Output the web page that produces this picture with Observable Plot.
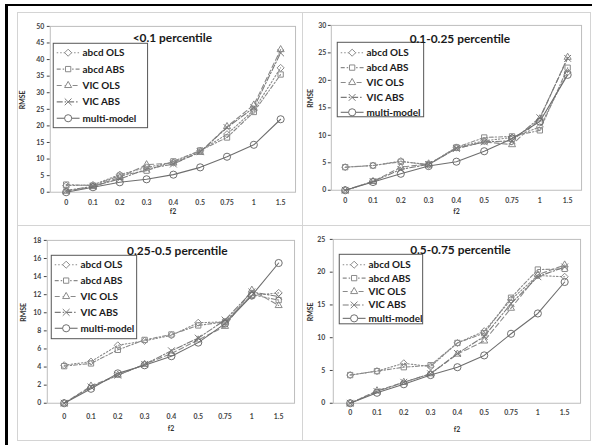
<!DOCTYPE html>
<html>
<head>
<meta charset="utf-8">
<script src="https://cdn.jsdelivr.net/npm/d3@7"></script>
<script src="https://cdn.jsdelivr.net/npm/@observablehq/plot@0.6"></script>
<style>
  html, body { margin: 0; padding: 0; background: #fff; }
  #root { position: relative; width: 592px; height: 445px; overflow: hidden; background: #fff; }
  .frameTop { position: absolute; left: 5px; top: 4px; width: 587px; height: 2px; background: #000; }
  .frameLeft { position: absolute; left: 5px; top: 4px; width: 3px; height: 441px; background: #000; }
  .panel { position: absolute; box-sizing: border-box; border: 1px solid #d4d4d4; }
  .panel svg { position: absolute; left: -1px; top: -1px; }
</style>
</head>
<body>
<div id="root">
  <div class="frameTop"></div>
  <div class="frameLeft"></div>
</div>
<script>
// ---- data ----
const f2Labels = ["0", "0.1", "0.2", "0.3", "0.4", "0.5", "0.75", "1", "1.5"];
const seriesNames = ["abcd OLS", "abcd ABS", "VIC OLS", "VIC ABS", "multi-model"];

// <0.1 percentile
const p1AbcdOLS  = [2.0, 2.2, 5.3, 7.5, 9.0, 12.5, 17.5, 24.8, 37.5];
const p1AbcdABS  = [2.3, 2.0, 5.0, 6.5, 9.3, 12.6, 16.5, 24.2, 35.5];
const p1VicOLS   = [0.3, 1.7, 4.5, 8.3, 8.8, 12.0, 19.8, 26.3, 43.0];
const p1VicABS   = [0.5, 1.8, 4.0, 7.0, 8.5, 12.2, 19.5, 25.5, 42.0];
const p1Multi    = [0.0, 1.5, 3.0, 3.9, 5.3, 7.5, 10.7, 14.3, 22.0];

// 0.1-0.25 percentile
const p2AbcdOLS  = [4.2, 4.5, 5.3, 4.6, 7.8, 9.0, 9.6, 11.5, 21.5];
const p2AbcdABS  = [4.2, 4.5, 5.2, 4.7, 7.8, 9.6, 9.8, 10.9, 22.3];
const p2VicOLS   = [0.0, 1.6, 4.2, 4.8, 7.6, 8.8, 8.3, 13.0, 24.2];
const p2VicABS   = [0.0, 1.6, 3.8, 4.7, 7.6, 8.8, 9.0, 13.2, 24.0];
const p2Multi    = [0.0, 1.5, 3.0, 4.4, 5.2, 7.1, 9.4, 12.5, 21.0];

// 0.25-0.5 percentile
const p3AbcdOLS  = [4.2, 4.6, 6.4, 6.9, 7.5, 8.9, 9.0, 11.9, 12.2];
const p3AbcdABS  = [4.1, 4.4, 5.9, 7.0, 7.6, 8.6, 9.0, 12.0, 11.4];
const p3VicOLS   = [0.0, 1.9, 3.1, 4.3, 5.5, 7.0, 8.5, 12.5, 10.8];
const p3VicABS   = [0.0, 1.8, 3.1, 4.3, 5.8, 7.2, 9.2, 12.3, 11.8];
const p3Multi    = [0.0, 1.6, 3.3, 4.2, 5.2, 6.7, 8.8, 11.9, 15.5];

// 0.5-0.75 percentile
const p4AbcdOLS  = [4.3, 4.9, 6.1, 5.6, 9.2, 11.0, 15.8, 19.5, 19.3];
const p4AbcdABS  = [4.3, 4.9, 5.5, 5.8, 9.2, 10.7, 16.1, 20.4, 20.5];
const p4VicOLS   = [0.0, 1.9, 3.2, 4.5, 7.5, 9.5, 14.5, 19.6, 21.1];
const p4VicABS   = [0.0, 1.8, 3.2, 4.5, 7.6, 10.2, 15.2, 19.3, 20.8];
const p4Multi    = [0.0, 1.6, 2.9, 4.3, 5.5, 7.3, 10.6, 13.7, 18.5];

const titles = ["<0.1 percentile", "0.1-0.25 percentile", "0.25-0.5 percentile", "0.5-0.75 percentile"];
const yMax = [50, 30, 18, 25];
const yStep = [5, 5, 2, 5];

// ---- styles per series ----
const seriesStyle = [
  {symbol: "diamond2", d3sym: d3.symbolDiamond2, dash: "1.5,2",     stroke: "#8a8a8a", r: 3.2},
  {symbol: "square2",  d3sym: d3.symbolSquare2,  dash: "4,2,1.5,2", stroke: "#8a8a8a", r: 3.4},
  {symbol: "triangle2",d3sym: d3.symbolTriangle2,dash: "5,3",       stroke: "#8a8a8a", r: 3.4},
  {symbol: "times",    d3sym: d3.symbolTimes,    dash: "6,2,1.5,2", stroke: "#7a7a7a", r: 3.2},
  {symbol: "circle",   d3sym: d3.symbolCircle,   dash: null,        stroke: "#6e6e6e", r: 3.6}
];

// ---- layout per panel ----
const panels = [
  {vals: [p1AbcdOLS, p1AbcdABS, p1VicOLS, p1VicABS, p1Multi],
   left: 17, top: 12, w: 286, h: 214, mL: 33, mR: 6, mT: 14, mB: 33,
   xPad: 8, yPad: 3, rmseDx: -28, f2Dy: 20, titleDy: 12, titleDx: 0,
   leg: {x: 36, y: 31, w: 95, h: 85, first: 10, step: 16.5}},
  {vals: [p2AbcdOLS, p2AbcdABS, p2VicOLS, p2VicABS, p2Multi],
   left: 302, top: 12, w: 289, h: 214, mL: 29, mR: 8, mT: 13, mB: 35,
   xPad: 8, yPad: 2, rmseDx: -21, f2Dy: 22, titleDy: 14, titleDx: 4,
   leg: {x: 35, y: 30, w: 87, h: 75, first: 11, step: 15}},
  {vals: [p3AbcdOLS, p3AbcdABS, p3VicOLS, p3VicABS, p3Multi],
   left: 17, top: 225, w: 286, h: 216, mL: 30, mR: 7, mT: 15, mB: 37,
   xPad: 11, yPad: 3, rmseDx: -24, f2Dy: 26, titleDy: 11, titleDx: 7,
   leg: {x: 34, y: 30, w: 86, h: 84, first: 10, step: 16}},
  {vals: [p4AbcdOLS, p4AbcdABS, p4VicOLS, p4VicABS, p4Multi],
   left: 302, top: 225, w: 289, h: 216, mL: 31, mR: 9, mT: 14, mB: 37,
   xPad: 7, yPad: 5, rmseDx: -23, f2Dy: 27, titleDy: 11, titleDx: 4,
   leg: {x: 37, y: 29, w: 84, h: 70, first: 11, step: 13.5}}
];

const FONT = "Lato, 'Open Sans', sans-serif";
const root = document.getElementById("root");

panels.forEach((p, i) => {
  const marks = [Plot.frame({stroke: "#bdbdbd"})];
  p.vals.forEach((arr, s) => {
    const st = seriesStyle[s];
    const rows = f2Labels.map((f, k) => ({f2: f, v: arr[k]}));
    marks.push(Plot.line(rows, {x: "f2", y: "v", stroke: st.stroke, strokeWidth: 1.1,
      strokeDasharray: st.dash || undefined}));
    marks.push(Plot.dot(rows, {x: "f2", y: "v", symbol: st.symbol, r: st.r,
      stroke: st.stroke, strokeWidth: 1, fill: "none"}));
  });
  marks.push(Plot.text(["RMSE"], {frameAnchor: "left", dx: p.rmseDx, rotate: -90,
    fontSize: 7, fontWeight: "bold", fill: "#333"}));
  marks.push(Plot.text(["f2"], {frameAnchor: "bottom", dy: p.f2Dy, lineAnchor: "middle",
    fontSize: 7, fontWeight: "bold", fill: "#333"}));

  const svg = Plot.plot({
    width: p.w, height: p.h,
    marginLeft: p.mL, marginRight: p.mR, marginTop: p.mT, marginBottom: p.mB,
    style: {fontFamily: FONT, fontSize: "7px", fontWeight: "bold", color: "#444", background: "none", overflow: "visible"},
    x: {type: "point", domain: f2Labels, padding: 0.5, tickSize: 0, tickPadding: p.xPad, label: null},
    y: {domain: [0, yMax[i]], ticks: d3.range(0, yMax[i] + 0.001, yStep[i]), tickSize: 3,
        tickPadding: p.yPad, label: null},
    marks
  });

  const div = document.createElement("div");
  div.className = "panel";
  div.style.left = p.left + "px";
  div.style.top = p.top + "px";
  div.style.width = p.w + "px";
  div.style.height = p.h + "px";
  div.appendChild(svg);
  root.appendChild(div);

  // legend box drawn inside the plot svg
  const L = p.leg;
  const g = d3.select(svg).append("g").attr("font-family", FONT).attr("text-anchor", "start");
  g.append("rect").attr("x", L.x + 0.5).attr("y", L.y + 0.5).attr("width", L.w).attr("height", L.h)
    .attr("fill", "#fff").attr("stroke", "#555").attr("stroke-width", 1);
  seriesNames.forEach((name, s) => {
    const st = seriesStyle[s];
    const yy = L.y + L.first + s * L.step;
    g.append("line").attr("x1", L.x + 4).attr("x2", L.x + 27).attr("y1", yy).attr("y2", yy)
      .attr("stroke", st.stroke).attr("stroke-width", 1.1)
      .attr("stroke-dasharray", st.dash || null);
    g.append("path").attr("d", d3.symbol(st.d3sym, Math.PI * st.r * st.r)())
      .attr("transform", `translate(${L.x + 15.5},${yy})`)
      .attr("fill", "#fff").attr("stroke", st.stroke).attr("stroke-width", 1);
    g.append("text").attr("x", L.x + 30).attr("y", yy).attr("dy", "0.35em")
      .attr("text-anchor", "start")
      .attr("font-size", 10).attr("font-weight", "bold").attr("fill", "#1a1a1a").text(name);
  });

  // title (drawn after legend so it stays on top)
  const cx = p.mL + (p.w - p.mL - p.mR) / 2 + p.titleDx;
  d3.select(svg).append("text").attr("x", cx).attr("y", p.mT + p.titleDy).attr("dy", "0.35em")
    .attr("text-anchor", "middle").attr("font-family", FONT).attr("font-size", 12)
    .attr("font-weight", "bold").attr("fill", "#1a1a1a").text(titles[i]);
});
</script>
</body>
</html>
